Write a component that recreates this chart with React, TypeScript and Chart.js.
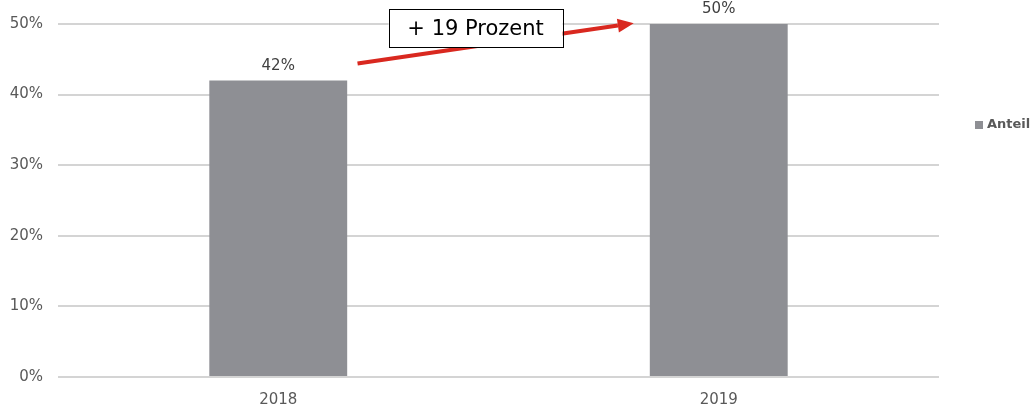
import React, { useEffect, useRef } from "react";
import { Chart, registerables } from "chart.js";

Chart.register(...registerables);

const categories = ["2018", "2019"];
const seriesName = "Anteil";
const values = [42, 50];
const yTicks = [0, 10, 20, 30, 40, 50];
const annotationText = "+ 19 Prozent";

const FONT = "'DejaVu Sans', Verdana, sans-serif";
const BAR_COLOR = "#8e8f94";

const overlayPlugin = {
  id: "overlay",
  afterDatasetsDraw(chart: any) {
    const ctx = chart.ctx;
    const meta = chart.getDatasetMeta(0);
    const xs = chart.scales.x;
    const ys = chart.scales.y;
    ctx.save();
    // data labels
    ctx.font = `15px ${FONT}`;
    ctx.fillStyle = "#404040";
    ctx.textAlign = "center";
    ctx.textBaseline = "bottom";
    meta.data.forEach((bar: any, i: number) => {
      ctx.fillText(`${values[i]}%`, bar.x, bar.y - 7);
    });
    // arrow
    const x0 = xs.getPixelForValue(0.18);
    const y0 = ys.getPixelForValue(44.4);
    const x1 = xs.getPixelForValue(0.807);
    const y1 = ys.getPixelForValue(50.1);
    const ang = Math.atan2(y1 - y0, x1 - x0);
    const headLen = 16;
    const headW = 7;
    const bx = x1 - headLen * Math.cos(ang);
    const by = y1 - headLen * Math.sin(ang);
    ctx.strokeStyle = "#d9281f";
    ctx.fillStyle = "#d9281f";
    ctx.lineWidth = 4;
    ctx.beginPath();
    ctx.moveTo(x0, y0);
    ctx.lineTo(bx, by);
    ctx.stroke();
    ctx.beginPath();
    ctx.moveTo(x1, y1);
    ctx.lineTo(bx + headW * Math.sin(ang), by - headW * Math.cos(ang));
    ctx.lineTo(bx - headW * Math.sin(ang), by + headW * Math.cos(ang));
    ctx.closePath();
    ctx.fill();
    // annotation box
    const cx = xs.getPixelForValue(0.448);
    const cy = ys.getPixelForValue(49.4);
    const w = 174;
    const h = 38;
    ctx.fillStyle = "#ffffff";
    ctx.fillRect(cx - w / 2, cy - h / 2, w, h);
    ctx.strokeStyle = "#000000";
    ctx.lineWidth = 1;
    ctx.strokeRect(Math.round(cx - w / 2) + 0.5, Math.round(cy - h / 2) + 0.5, w, h);
    ctx.fillStyle = "#000000";
    ctx.font = `21px ${FONT}`;
    ctx.textAlign = "center";
    ctx.textBaseline = "middle";
    ctx.fillText(annotationText, cx, cy + 1);
    // legend
    ctx.fillStyle = BAR_COLOR;
    ctx.fillRect(975, 121, 8, 8);
    ctx.fillStyle = "#595959";
    ctx.font = `bold 13px ${FONT}`;
    ctx.textAlign = "left";
    ctx.textBaseline = "middle";
    ctx.fillText(seriesName, 987, 125);
    ctx.restore();
  },
};

export default function App() {
  const ref = useRef<HTMLCanvasElement>(null);
  useEffect(() => {
    document.body.style.margin = "0";
    const chart = new Chart(ref.current!, {
      type: "bar",
      data: {
        labels: categories,
        datasets: [
          {
            label: seriesName,
            data: values,
            backgroundColor: BAR_COLOR,
            barPercentage: 0.313,
            categoryPercentage: 1,
          },
        ],
      },
      options: {
        animation: false,
        responsive: false,
        devicePixelRatio: 1,
        layout: { padding: { left: 0, right: 91, top: 23, bottom: 0 } },
        plugins: { legend: { display: false }, tooltip: { enabled: false } },
        scales: {
          x: {
            grid: { display: false },
            border: { display: false },
            ticks: { color: "#595959", font: { family: FONT, size: 15 }, padding: 6 },
            afterFit: (s: any) => {
              s.height = 30;
            },
          },
          y: {
            min: 0,
            max: 50,
            afterBuildTicks: (s: any) => {
              s.ticks = yTicks.map((v) => ({ value: v }));
            },
            grid: { color: "#d4d4d4", lineWidth: 2, drawTicks: false },
            border: { display: false },
            ticks: {
              color: "#595959",
              font: { family: FONT, size: 15 },
              padding: 15,
              callback: (v: any) => `${v}%`,
            },
            afterFit: (s: any) => {
              s.width = 58;
            },
          },
        },
      },
      plugins: [overlayPlugin],
    });
    return () => chart.destroy();
  }, []);
  return <canvas ref={ref} width={1030} height={407} style={{ display: "block" }} />;
}
